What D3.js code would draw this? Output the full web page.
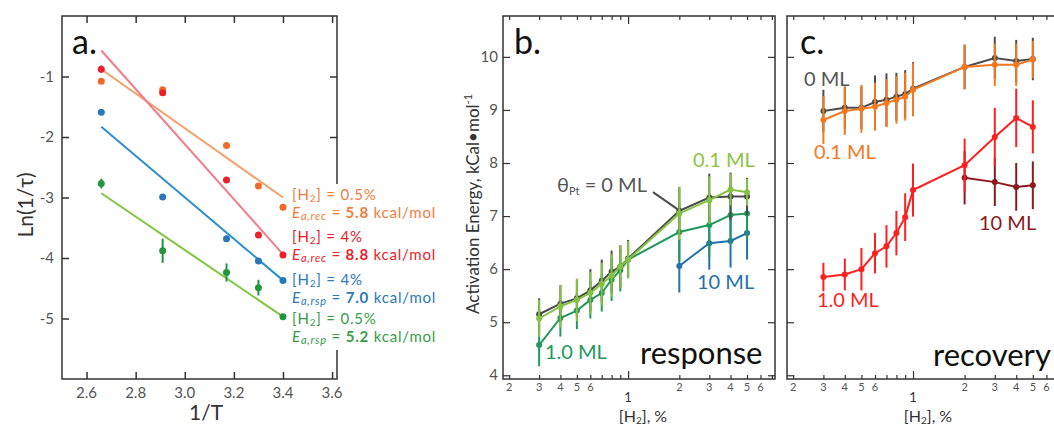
<!DOCTYPE html>
<html><head><meta charset="utf-8">
<script src="https://cdn.jsdelivr.net/npm/d3@7"></script>
<style>
html,body{margin:0;padding:0;background:#fff;}
svg{display:block;font-family:Lato,"Open Sans",sans-serif;}
</style></head>
<body>
<script>
// ---------- Panel a data ----------
const xA = [2.66, 2.91, 3.17, 3.30, 3.40];
const recLow = [-1.08, -1.22, -2.14, -2.81, -3.16];   // [H2]=0.5%, recovery
const recLowErr = [0, 0.04, 0, 0, 0];
const recHigh = [-0.88, -1.27, -2.71, -3.62, -3.95];  // [H2]=4%, recovery
const recHighErr = [0.06, 0.04, 0.05, 0, 0];
const rspHigh = [-1.59, -2.99, -3.68, -4.05, -4.37];  // [H2]=4%, response
const rspHighErr = [0, 0, 0, 0, 0];
const rspLow = [-2.77, -3.88, -4.24, -4.49, -4.97];   // [H2]=0.5%, response
const rspLowErr = [0.08, 0.2, 0.15, 0.13, 0];
const fitX = [2.66, 3.40];
const fitRecLow = [-0.88, -3.0];
const fitRecHigh = [-0.57, -3.94];
const fitRspHigh = [-1.83, -4.37];
const fitRspLow = [-2.93, -4.97];
const xTicksA = [2.6, 2.8, 3.0, 3.2, 3.4, 3.6];
const yTicksA = [-1, -2, -3, -4, -5];

// ---------- Panels b, c data ----------
const xH2 = [0.3, 0.4, 0.5, 0.6, 0.7, 0.8, 0.9, 1, 2, 3, 4, 5];
const xH2hi = [2, 3, 4, 5];
const rsp0 = [5.15, 5.35, 5.45, 5.6, 5.78, 5.95, 6.05, 6.2, 7.1, 7.35, 7.37, 7.37];
const rsp0Err = [0.3, 0.35, 0.35, 0.4, 0.4, 0.4, 0.4, 0.35, 0.45, 0.45, 0.45, 0.35];
const rsp01 = [5.07, 5.3, 5.42, 5.55, 5.72, 5.88, 6.05, 6.18, 7.05, 7.3, 7.5, 7.45];
const rsp01Err = [0.35, 0.4, 0.4, 0.4, 0.4, 0.4, 0.4, 0.35, 0.5, 0.45, 0.3, 0.25];
const rsp1 = [4.57, 5.08, 5.22, 5.42, 5.55, 5.8, 5.98, 6.18, 6.7, 6.83, 7.02, 7.05];
const rsp1Err = [0.4, 0.35, 0.35, 0.35, 0.35, 0.4, 0.4, 0.35, 0.55, 0.6, 0.55, 0.5];
const rsp10 = [6.06, 6.49, 6.53, 6.68];
const rsp10Err = [0.5, 0.5, 0.5, 0.5];

const rec0 = [8.98, 9.04, 9.04, 9.15, 9.19, 9.25, 9.3, 9.4, 9.81, 9.98, 9.92, 9.96];
const rec0Err = [0.4, 0.4, 0.4, 0.5, 0.5, 0.45, 0.45, 0.5, 0.42, 0.4, 0.4, 0.4];
const rec01 = [8.81, 8.98, 9.02, 9.06, 9.13, 9.19, 9.25, 9.38, 9.81, 9.85, 9.85, 9.95];
const rec01Err = [0.45, 0.45, 0.45, 0.45, 0.45, 0.45, 0.45, 0.5, 0.42, 0.4, 0.4, 0.35];
const rec1 = [5.85, 5.9, 6.0, 6.3, 6.43, 6.68, 6.98, 7.49, 7.96, 8.49, 8.85, 8.68];
const rec1Err = [0.27, 0.3, 0.4, 0.38, 0.4, 0.42, 0.45, 0.5, 0.5, 0.55, 0.55, 0.5];
const rec10 = [7.72, 7.64, 7.55, 7.58];
const rec10Err = [0.5, 0.45, 0.45, 0.45];

const yTicksBC = [4, 5, 6, 7, 8, 9, 10];
const xMinorBC = [0.2, 0.3, 0.4, 0.5, 0.6, 0.7, 0.8, 0.9, 2, 3, 4, 5, 6, 7];
const xMajorBC = [1];
const xMinorLabels = [0.2, 0.3, 0.4, 0.5, 0.6, 2, 3, 4, 5, 6];
const leaderX = [1.40, 1.95];
const leaderY = [7.45, 7.13];

// ---------- setup ----------
const W = 1054, H = 431;
const svg = d3.select("body").append("svg").attr("width", W).attr("height", H);
const tickCol = "#555";

function frame(g, x0, y0, x1, y1) {
  g.append("rect").attr("x", x0).attr("y", y0).attr("width", x1 - x0).attr("height", y1 - y0)
    .attr("fill", "none").attr("stroke", "#333").attr("stroke-width", 1.5);
}

function series(g, xs, sx, sy, ys, errs, color, opts = {}) {
  const pts = xs.map((x, i) => ({x, y: ys[i], e: errs ? errs[i] : 0}));
  if (opts.line !== false) {
    g.append("path").datum(pts)
      .attr("d", d3.line().x(d => sx(d.x)).y(d => sy(d.y)))
      .attr("fill", "none").attr("stroke", color).attr("stroke-width", opts.lw || 2);
  }
  g.selectAll(null).data(pts.filter(d => d.e > 0)).join("line")
    .attr("x1", d => sx(d.x)).attr("x2", d => sx(d.x))
    .attr("y1", d => sy(d.y - d.e)).attr("y2", d => sy(d.y + d.e))
    .attr("stroke", color).attr("stroke-width", opts.ew || 2);
  g.selectAll(null).data(pts).join("circle")
    .attr("cx", d => sx(d.x)).attr("cy", d => sy(d.y)).attr("r", opts.r || 3)
    .attr("fill", color);
}

// ================= Panel a =================
const gA = svg.append("g");
const xa = d3.scaleLinear().domain([2.5, 3.62]).range([62, 337]);
const ya = d3.scaleLinear().domain([-6, 0]).range([379, 16]);

gA.append("g").attr("transform", "translate(0,379)")
  .call(d3.axisBottom(xa).tickValues(xTicksA).tickSize(-7).tickFormat(""))
  .call(s => s.select(".domain").remove()).selectAll("line").attr("stroke", "#333").attr("stroke-width", 1.5);
gA.append("g").attr("transform", "translate(0,16)")
  .call(d3.axisTop(xa).tickValues(xTicksA).tickSize(-7).tickFormat(""))
  .call(s => s.select(".domain").remove()).selectAll("line").attr("stroke", "#333").attr("stroke-width", 1.5);
gA.append("g").attr("transform", "translate(62,0)")
  .call(d3.axisLeft(ya).tickValues(yTicksA).tickSize(-7).tickFormat(""))
  .call(s => s.select(".domain").remove()).selectAll("line").attr("stroke", "#333").attr("stroke-width", 1.5);
gA.append("g").attr("transform", "translate(337,0)")
  .call(d3.axisRight(ya).tickValues(yTicksA).tickSize(-7).tickFormat(""))
  .call(s => s.select(".domain").remove()).selectAll("line").attr("stroke", "#333").attr("stroke-width", 1.5);
frame(gA, 62, 16, 337, 379);

gA.selectAll(null).data(xTicksA).join("text")
  .attr("x", d => xa(d)).attr("y", 398).attr("text-anchor", "middle")
  .attr("font-size", 15).attr("fill", tickCol).text(d => d.toFixed(1));
gA.selectAll(null).data(yTicksA).join("text")
  .attr("x", 54).attr("y", d => ya(d) + 5).attr("text-anchor", "end")
  .attr("font-size", 15).attr("fill", tickCol).text(d => d);

gA.append("text").attr("x", 206).attr("y", 420).attr("text-anchor", "middle")
  .attr("font-size", 21).attr("fill", "#333").text("1/T");
gA.append("text").attr("transform", "translate(33,205) rotate(-90)").attr("text-anchor", "middle")
  .attr("font-size", 21).attr("fill", "#333").text("Ln(1/τ)");
gA.append("text").attr("x", 72).attr("y", 54).attr("font-size", 34).attr("fill", "#111").text("a.");

const fitLine = (ys, col) => gA.append("path")
  .datum(fitX.map((x, i) => [x, ys[i]]))
  .attr("d", d3.line().x(d => xa(d[0])).y(d => ya(d[1])))
  .attr("stroke", col).attr("stroke-width", 2).attr("fill", "none");
fitLine(fitRecLow, "#f5a06a");
fitLine(fitRecHigh, "#f27c89");
fitLine(fitRspHigh, "#2c8fd0");
fitLine(fitRspLow, "#7fc63e");

series(gA, xA, xa, ya, recLow, recLowErr, "#f26a2b", {line: false, r: 3.5});
series(gA, xA, xa, ya, recHigh, recHighErr, "#ec1f2b", {line: false, r: 3.5});
series(gA, xA, xa, ya, rspHigh, rspHighErr, "#2a78b8", {line: false, r: 3.5});
series(gA, xA, xa, ya, rspLow, rspLowErr, "#22963e", {line: false, r: 3.5});

gA.append("rect").attr("x", 291).attr("y", 184).attr("width", 160).attr("height", 166).attr("fill", "#fff");
const legendA = [
  {h: "0.5%", sub: "a,rec", v: "5.8", col: "#f47b3c", y: 200},
  {h: "4%", sub: "a,rec", v: "8.8", col: "#e8212a", y: 242},
  {h: "4%", sub: "a,rsp", v: "7.0", col: "#2b78b5", y: 285},
  {h: "0.5%", sub: "a,rsp", v: "5.2", col: "#3a9a48", y: 324}
];
legendA.forEach(d => {
  const t1 = gA.append("text").attr("x", 292).attr("y", d.y).attr("font-size", 15)
    .attr("letter-spacing", 0.8).attr("fill", d.col);
  t1.append("tspan").text("[H");
  t1.append("tspan").attr("font-size", 10).attr("dy", 2).text("2");
  t1.append("tspan").attr("dy", -2).text("] = " + d.h);
  const t2 = gA.append("text").attr("x", 292).attr("y", d.y + 18).attr("font-size", 15)
    .attr("letter-spacing", 0.8).attr("fill", d.col);
  t2.append("tspan").attr("font-style", "italic").text("E");
  t2.append("tspan").attr("font-style", "italic").attr("font-size", 11).attr("dy", 2).text(d.sub);
  t2.append("tspan").attr("dy", -2).text(" = ");
  t2.append("tspan").attr("font-weight", "bold").text(d.v);
  t2.append("tspan").text(" kcal/mol");
});

// ================= Panels b & c =================
const y = d3.scaleLinear().domain([3.93, 10.77]).range([379, 16]);
function logPanel(x0, x1, showY) {
  const g = svg.append("g");
  const x = d3.scaleLog().domain([0.184, 7.3]).range([x0, x1]);
  const styleTicks = s => { s.select(".domain").remove(); s.selectAll("line").attr("stroke", "#333").attr("stroke-width", 1.2); };
  g.append("g").attr("transform", "translate(0,379)")
    .call(d3.axisBottom(x).tickValues(xMinorBC).tickSize(-4).tickFormat("")).call(styleTicks);
  g.append("g").attr("transform", "translate(0,379)")
    .call(d3.axisBottom(x).tickValues(xMajorBC).tickSize(-8).tickFormat("")).call(styleTicks);
  g.append("g").attr("transform", "translate(0,16)")
    .call(d3.axisTop(x).tickValues(xMinorBC).tickSize(-4).tickFormat("")).call(styleTicks);
  g.append("g").attr("transform", "translate(0,16)")
    .call(d3.axisTop(x).tickValues(xMajorBC).tickSize(-8).tickFormat("")).call(styleTicks);
  g.append("g").attr("transform", `translate(${x0},0)`)
    .call(d3.axisLeft(y).tickValues(yTicksBC).tickSize(-7).tickFormat("")).call(styleTicks);
  g.append("g").attr("transform", `translate(${x1},0)`)
    .call(d3.axisRight(y).tickValues(yTicksBC).tickSize(-7).tickFormat("")).call(styleTicks);
  frame(g, x0, 16, x1, 379);
  g.selectAll(null).data(xMinorLabels).join("text")
    .attr("x", d => x(d)).attr("y", 391).attr("text-anchor", "middle")
    .attr("font-size", 11).attr("fill", tickCol).text(d => d < 1 ? Math.round(d * 10) : d);
  g.selectAll(null).data(xMajorBC).join("text")
    .attr("x", d => x(d)).attr("y", 402).attr("text-anchor", "middle")
    .attr("font-size", 13).attr("fill", "#333").text(d => d);
  const tt = g.append("text").attr("x", (x0 + x1) / 2 + 4).attr("y", 422).attr("text-anchor", "middle")
    .attr("font-size", 16).attr("fill", "#333");
  tt.append("tspan").text("[H");
  tt.append("tspan").attr("font-size", 10).attr("dy", 2).text("2");
  tt.append("tspan").attr("dy", -2).text("], %");
  if (showY) {
    g.selectAll(null).data(yTicksBC).join("text")
      .attr("x", x0 - 5).attr("y", d => y(d) + 5).attr("text-anchor", "end")
      .attr("font-size", 15).attr("fill", tickCol).text(d => d);
  }
  return {g, x};
}

// Panel b
const B = logPanel(503, 775, true);
series(B.g, xH2hi, B.x, y, rsp10, rsp10Err, "#2471ab");
series(B.g, xH2, B.x, y, rsp1, rsp1Err, "#22995c");
series(B.g, xH2, B.x, y, rsp0, rsp0Err, "#4a4a4a");
series(B.g, xH2, B.x, y, rsp01, rsp01Err, "#84c341");
B.g.append("path").datum(leaderX.map((v, i) => [v, leaderY[i]]))
  .attr("d", d3.line().x(d => B.x(d[0])).y(d => y(d[1])))
  .attr("stroke", "#4a4a4a").attr("stroke-width", 2).attr("fill", "none");
B.g.append("text").attr("x", 514).attr("y", 54).attr("font-size", 34).attr("fill", "#111").text("b.");
const th = B.g.append("text").attr("x", 557).attr("y", 192).attr("font-size", 20).attr("fill", "#555");
th.append("tspan").text("θ");
th.append("tspan").attr("font-size", 11).attr("dy", 3).text("Pt");
th.append("tspan").attr("dy", -3).text(" = 0 ML");
B.g.append("text").attr("x", 693).attr("y", 167).attr("font-size", 20).attr("fill", "#8cc63f").text("0.1 ML");
B.g.append("text").attr("x", 697).attr("y", 289).attr("font-size", 20).attr("fill", "#2471ab").text("10 ML");
B.g.append("text").attr("x", 545).attr("y", 359).attr("font-size", 20).attr("fill", "#22995c").text("1.0 ML");
B.g.append("text").attr("x", 640).attr("y", 364).attr("font-size", 31).attr("fill", "#111").text("response");

// Panel c
const C = logPanel(787, 1061, false);
series(C.g, xH2hi, C.x, y, rec10, rec10Err, "#8a1a1e");
series(C.g, xH2, C.x, y, rec1, rec1Err, "#fe1f1f");
series(C.g, xH2, C.x, y, rec0, rec0Err, "#4d4d4d");
series(C.g, xH2, C.x, y, rec01, rec01Err, "#f5781f");
C.g.append("text").attr("x", 800).attr("y", 54).attr("font-size", 34).attr("fill", "#111").text("c.");
C.g.append("text").attr("x", 804).attr("y", 86).attr("font-size", 20).attr("fill", "#555").text("0 ML");
C.g.append("text").attr("x", 814).attr("y", 159).attr("font-size", 20).attr("fill", "#f5781f").text("0.1 ML");
C.g.append("text").attr("x", 979).attr("y", 230).attr("font-size", 20).attr("fill", "#8a1a1e").text("10 ML");
C.g.append("text").attr("x", 817).attr("y", 307).attr("font-size", 20).attr("fill", "#fe1f1f").text("1.0 ML");
C.g.append("text").attr("x", 933).attr("y", 366).attr("font-size", 31).attr("fill", "#111").text("recovery");

const yt = svg.append("text").attr("transform", "translate(479,204) rotate(-90)").attr("text-anchor", "middle")
  .attr("font-size", 17).attr("fill", "#333");
yt.append("tspan").text("Activation Energy, kCal•mol");
yt.append("tspan").attr("font-size", 11).attr("dy", -7).text("-1");
</script>
</body></html>
